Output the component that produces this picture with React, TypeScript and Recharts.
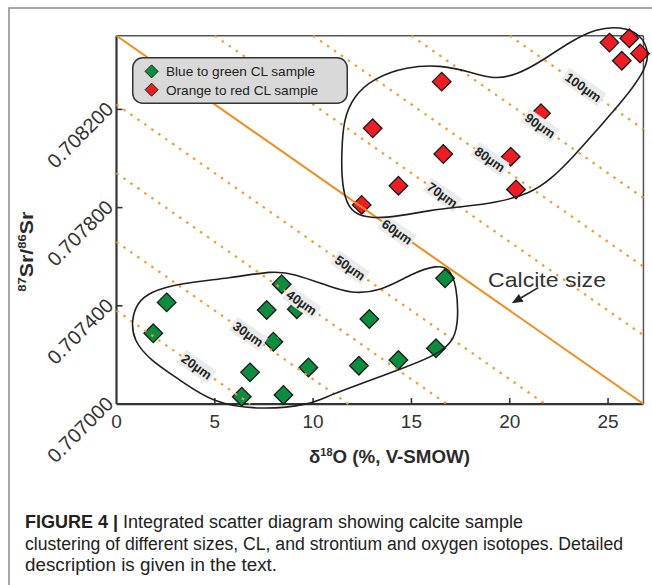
import React from 'react'
import { ScatterChart, Scatter, XAxis, YAxis, ReferenceLine, Legend } from 'recharts'

const FONT = '"Liberation Sans", Arial, sans-serif'

// plot frame in data units, and a slightly larger view so the hand-drawn
// envelopes may spill over the frame as they do in the figure
const X_FRAME: [number, number] = [0, 26.8]
const Y_FRAME: [number, number] = [0.707, 0.7085]
const X_VIEW: [number, number] = [0, 27.2]
const Y_VIEW: [number, number] = [0.70697, 0.70856]

const X_TICKS = [0, 5, 10, 15, 20, 25]
const Y_TICKS = [0.707, 0.7074, 0.7078, 0.7082]

const LEGEND_NAMES = ['Blue to green CL sample', 'Orange to red CL sample']

const GREEN_SAMPLES = [
  { x: 2.55, y: 0.707414 },
  { x: 1.87, y: 0.707288 },
  { x: 8.4, y: 0.707488 },
  { x: 7.64, y: 0.707383 },
  { x: 9.17, y: 0.707386 },
  { x: 7.98, y: 0.707254 },
  { x: 6.79, y: 0.707129 },
  { x: 9.76, y: 0.707149 },
  { x: 6.37, y: 0.70703 },
  { x: 8.49, y: 0.707037 },
  { x: 16.71, y: 0.707512 },
  { x: 12.86, y: 0.707346 },
  { x: 16.25, y: 0.707227 },
  { x: 14.34, y: 0.707179 },
  { x: 12.33, y: 0.707156 },
]

const RED_SAMPLES = [
  { x: 16.54, y: 0.708313 },
  { x: 13.03, y: 0.708123 },
  { x: 16.62, y: 0.708018 },
  { x: 20.05, y: 0.708007 },
  { x: 14.34, y: 0.707889 },
  { x: 20.32, y: 0.707874 },
  { x: 12.47, y: 0.707811 },
  { x: 21.59, y: 0.708184 },
  { x: 25.07, y: 0.708472 },
  { x: 26.08, y: 0.70849 },
  { x: 25.7, y: 0.708398 },
  { x: 26.63, y: 0.708428 },
]

// outlines drawn round each group
const GREEN_ENVELOPE = [
  { x: 0.77, y: 0.707342 }, { x: 1.03, y: 0.70741 }, { x: 1.7, y: 0.707457 },
  { x: 3.23, y: 0.707492 }, { x: 5.77, y: 0.707513 }, { x: 7.98, y: 0.707543 },
  { x: 8.99, y: 0.707532 }, { x: 10.86, y: 0.707478 }, { x: 11.88, y: 0.707451 },
  { x: 13.4, y: 0.707457 }, { x: 15.08, y: 0.707534 }, { x: 16.29, y: 0.707566 },
  { x: 16.96, y: 0.707553 }, { x: 17.3, y: 0.707478 }, { x: 17.39, y: 0.707356 },
  { x: 17.22, y: 0.707261 }, { x: 16.29, y: 0.7072 }, { x: 14.76, y: 0.707152 },
  { x: 12.54, y: 0.707086 }, { x: 10.86, y: 0.707037 }, { x: 9.84, y: 0.706996 },
  { x: 7.3, y: 0.706976 }, { x: 4.92, y: 0.707003 }, { x: 3.23, y: 0.707098 },
  { x: 1.7, y: 0.707179 }, { x: 0.85, y: 0.707261 },
]

const RED_ENVELOPE = [
  { x: 11.45, y: 0.708021 }, { x: 11.54, y: 0.708157 }, { x: 12.04, y: 0.708252 },
  { x: 13.06, y: 0.708327 }, { x: 14.76, y: 0.708374 }, { x: 16.45, y: 0.708381 },
  { x: 17.98, y: 0.708353 }, { x: 19.17, y: 0.708322 }, { x: 20.36, y: 0.70834 },
  { x: 21.71, y: 0.708401 }, { x: 23.07, y: 0.708476 }, { x: 24.43, y: 0.70853 },
  { x: 25.61, y: 0.708537 }, { x: 26.63, y: 0.70851 }, { x: 27.14, y: 0.708428 },
  { x: 26.8, y: 0.708347 }, { x: 25.78, y: 0.708238 }, { x: 24.43, y: 0.708116 },
  { x: 23.24, y: 0.708007 }, { x: 22.05, y: 0.707912 }, { x: 21.03, y: 0.707858 },
  { x: 19.34, y: 0.70782 }, { x: 17.64, y: 0.707804 }, { x: 15.95, y: 0.70779 },
  { x: 14.25, y: 0.707763 }, { x: 12.89, y: 0.707756 }, { x: 12.04, y: 0.707777 },
  { x: 11.62, y: 0.707831 }, { x: 11.45, y: 0.707926 },
]

// calcite size iso-lines: where each meets the bottom of the frame, and where its label sits
const SIZE_LABELS = ['20\u00b5m', '30\u00b5m', '40\u00b5m', '50\u00b5m', '60\u00b5m', '70\u00b5m', '80\u00b5m', '90\u00b5m', '100\u00b5m']
const SIZE_INTERCEPTS = [6.8, 11.8, 16.8, 21.8, 26.8, 31.8, 36.8, 41.8, 46.8]
const SIZE_LABEL_X = [4.08, 6.7, 9.42, 11.88, 14.27, 16.58, 18.99, 21.54, 23.74]
const CALCITE_LINE = '60\u00b5m'

const ARROW = [{ x: 21.45, y: 0.707474 }, { x: 20.1, y: 0.70741 }]

const CAPTION_LINES = [
  'Integrated scatter diagram showing calcite sample',
  'clustering of different sizes, CL, and strontium and oxygen isotopes. Detailed',
  'description is given in the text.',
]
const CAPTION_WIDTHS = [498, 598, 252]

const GREEN = '#0c8c3f'
const RED = '#ee1d23'
const ORANGE = '#f28c1c'
const ORANGE_DOT = '#f39a33'

// layout of the plot area in page pixels
const W = 652
const CHART_H = 480
const PLOT_LEFT = 116.5
const PLOT_TOP = 21
const PLOT_RIGHT = 651.3
const PLOT_BOTTOM = 411.4
const Y_AXIS_W = 60
const X_AXIS_H = 30
const TICK_PX = 6

const PX_PER_X = (PLOT_RIGHT - PLOT_LEFT) / (X_VIEW[1] - X_VIEW[0])
const PX_PER_Y = (PLOT_BOTTOM - PLOT_TOP) / (Y_VIEW[1] - Y_VIEW[0])

const slope = (Y_FRAME[1] - Y_FRAME[0]) / (X_FRAME[1] - X_FRAME[0])
const lineY = (x0: number, x: number) => Y_FRAME[0] + slope * (x0 - x)
const LABEL_ANGLE = (Math.atan((slope * PX_PER_Y) / PX_PER_X) * 180) / Math.PI

function segmentFor(x0: number) {
  const yLeft = lineY(x0, X_FRAME[0])
  const start =
    yLeft <= Y_FRAME[1] + 1e-12
      ? { x: X_FRAME[0], y: Math.min(yLeft, Y_FRAME[1]) }
      : { x: x0 - (Y_FRAME[1] - Y_FRAME[0]) / slope, y: Y_FRAME[1] }
  const end = x0 <= X_FRAME[1] ? { x: x0, y: Y_FRAME[0] } : { x: X_FRAME[1], y: lineY(x0, X_FRAME[1]) }
  return [start, end]
}

const sizeLabels = SIZE_LABELS.map((label, i) => ({
  x: SIZE_LABEL_X[i],
  y: lineY(SIZE_INTERCEPTS[i], SIZE_LABEL_X[i]),
  label,
}))

const NoShape = () => <g />

function Diamond(props: any) {
  const { cx, cy, fill } = props
  const r = 9.3
  return (
    <polygon
      points={`${cx},${cy - r} ${cx + r},${cy} ${cx},${cy + r} ${cx - r},${cy}`}
      fill={fill}
      stroke="#1a1a1a"
      strokeWidth={1.3}
    />
  )
}

function SizeLabel(props: any) {
  const { cx, cy, payload } = props
  const text: string = payload.label
  const w = text.length * 8 + 5
  return (
    <g transform={`translate(${cx},${cy}) rotate(${LABEL_ANGLE})`}>
      <rect x={-w / 2} y={-8} width={w} height={16} fill="#ebebeb" />
      <text x={0} y={4.6} textAnchor="middle" fontSize={13} fontWeight="bold" fill="#222" fontFamily={FONT}>
        {text}
      </text>
    </g>
  )
}

function XTick(props: any) {
  const { x, y, payload } = props
  return (
    <text x={x} y={y + 17} textAnchor="middle" fontSize={19} fill="#333" fontFamily={FONT}>
      {payload.value}
    </text>
  )
}

function YTick(props: any) {
  const { x, y, payload } = props
  const ax = x - 2
  const ay = y + 1
  return (
    <text
      x={ax}
      y={ay}
      transform={`rotate(-45 ${ax} ${ay})`}
      textAnchor="end"
      fontSize={20}
      fill="#333"
      fontFamily={FONT}
    >
      {Number(payload.value).toFixed(6)}
    </text>
  )
}

function Arrow(props: any) {
  const { x1, y1, x2, y2 } = props
  const a = Math.atan2(y2 - y1, x2 - x1)
  const len = 11
  const half = 4.5
  const bx = x2 - len * Math.cos(a)
  const by = y2 - len * Math.sin(a)
  const px = -Math.sin(a) * half
  const py = Math.cos(a) * half
  return (
    <g>
      <line x1={x1} y1={y1} x2={bx} y2={by} stroke="#222" strokeWidth={1.6} />
      <polygon points={`${x2},${y2} ${bx + px},${by + py} ${bx - px},${by - py}`} fill="#222" />
    </g>
  )
}

function LegendBox() {
  const colors = [GREEN, RED]
  return (
    <svg width={216} height={47}>
      <rect x={0.75} y={0.75} width={214.5} height={45.5} rx={10} fill="#d9d9d9" stroke="#333" strokeWidth={1.5} />
      {LEGEND_NAMES.map((name, i) => {
        const cy = 14.4 + i * 18.3
        const r = 6.5
        return (
          <g key={name}>
            <polygon
              points={`19.6,${cy - r} ${19.6 + r},${cy} 19.6,${cy + r} ${19.6 - r},${cy}`}
              fill={colors[i]}
              stroke="#1a1a1a"
              strokeWidth={1}
            />
            <text x={34} y={cy + 4.8} fontSize={13.6} fill="#222" fontFamily={FONT}>
              {name}
            </text>
          </g>
        )
      })}
    </svg>
  )
}

const tickDx = TICK_PX / PX_PER_X
const tickDy = TICK_PX / PX_PER_Y

export default function App() {
  return (
    <div style={{ position: 'absolute', left: 0, top: 0, width: W, height: 585, overflow: 'hidden', background: '#fff' }}>
      <ScatterChart
        width={W}
        height={CHART_H}
        margin={{
          top: PLOT_TOP,
          left: PLOT_LEFT - Y_AXIS_W,
          right: W - PLOT_RIGHT,
          bottom: CHART_H - PLOT_BOTTOM - X_AXIS_H,
        }}
      >
        <XAxis
          type="number"
          dataKey="x"
          domain={X_VIEW}
          ticks={X_TICKS}
          interval={0}
          axisLine={false}
          tickLine={false}
          tickSize={0}
          tickMargin={0}
          height={X_AXIS_H}
          tick={XTick}
        />
        <YAxis
          type="number"
          dataKey="y"
          domain={Y_VIEW}
          ticks={Y_TICKS}
          interval={0}
          axisLine={false}
          tickLine={false}
          tickSize={0}
          tickMargin={0}
          width={Y_AXIS_W}
          tick={YTick}
        />

        <Scatter name={LEGEND_NAMES[0]} data={GREEN_SAMPLES} fill={GREEN} shape={Diamond} isAnimationActive={false} />
        <Scatter name={LEGEND_NAMES[1]} data={RED_SAMPLES} fill={RED} shape={Diamond} isAnimationActive={false} />

        {SIZE_INTERCEPTS.map((x0, i) => {
          const solid = SIZE_LABELS[i] === CALCITE_LINE
          return (
            <Scatter
              key={SIZE_LABELS[i]}
              data={segmentFor(x0)}
              legendType="none"
              line={
                solid
                  ? { stroke: ORANGE, strokeWidth: 2 }
                  : { stroke: ORANGE_DOT, strokeWidth: 2.2, strokeDasharray: '2.5 6' }
              }
              lineType="joint"
              shape={NoShape}
              isAnimationActive={false}
            />
          )
        })}

        <Scatter data={sizeLabels} legendType="none" shape={SizeLabel} isAnimationActive={false} />

        <Scatter
          data={GREEN_ENVELOPE}
          legendType="none"
          line={{ stroke: '#1f1f1f', strokeWidth: 1.6 }}
          lineType="joint"
          lineJointType="basisClosed"
          shape={NoShape}
          isAnimationActive={false}
        />
        <Scatter
          data={RED_ENVELOPE}
          legendType="none"
          line={{ stroke: '#1f1f1f', strokeWidth: 1.6 }}
          lineType="joint"
          lineJointType="basisClosed"
          shape={NoShape}
          isAnimationActive={false}
        />

        {/* frame */}
        <ReferenceLine segment={[{ x: X_FRAME[0], y: Y_FRAME[1] }, { x: X_FRAME[1], y: Y_FRAME[1] }]} stroke="#555" strokeWidth={1.5} />
        <ReferenceLine segment={[{ x: X_FRAME[1], y: Y_FRAME[0] }, { x: X_FRAME[1], y: Y_FRAME[1] }]} stroke="#555" strokeWidth={1.5} />
        <ReferenceLine segment={[{ x: X_FRAME[0], y: Y_FRAME[0] }, { x: X_FRAME[0], y: Y_FRAME[1] }]} stroke="#333" strokeWidth={2.2} />
        <ReferenceLine segment={[{ x: X_FRAME[0], y: Y_FRAME[0] }, { x: X_FRAME[1], y: Y_FRAME[0] }]} stroke="#333" strokeWidth={2.2} />

        {/* inward tick marks */}
        {X_TICKS.filter((t) => t > X_FRAME[0]).map((t) => (
          <ReferenceLine key={`xt${t}`} segment={[{ x: t, y: Y_FRAME[0] }, { x: t, y: Y_FRAME[0] + tickDy }]} stroke="#333" strokeWidth={1.6} />
        ))}
        {Y_TICKS.filter((t) => t > Y_FRAME[0]).map((t) => (
          <ReferenceLine key={`yt${t}`} segment={[{ x: X_FRAME[0], y: t }, { x: X_FRAME[0] + tickDx, y: t }]} stroke="#333" strokeWidth={1.6} />
        ))}

        <ReferenceLine segment={ARROW} shape={Arrow} />

        <Legend
          layout="vertical"
          align="center"
          verticalAlign="middle"
          content={LegendBox}
          wrapperStyle={{ left: 132, top: 57, width: 216, height: 47 }}
        />
      </ScatterChart>

      <svg width={W} height={585} style={{ position: 'absolute', left: 0, top: 0, pointerEvents: 'none' }}>
        <path d="M9 585 V8 H652" stroke="#8c8c8c" strokeWidth={1.5} fill="none" />

        <text
          transform="translate(33, 251.7) rotate(-90)"
          textAnchor="middle"
          fontSize={18}
          fontWeight="bold"
          fill="#2b2b2b"
          fontFamily={FONT}
          textLength={80}
          lengthAdjust="spacingAndGlyphs"
        >
          <tspan fontSize={11} dy={-7}>87</tspan>
          <tspan dy={7}>Sr/</tspan>
          <tspan fontSize={11} dy={-7}>86</tspan>
          <tspan dy={7}>Sr</tspan>
        </text>

        <text
          x={389.5}
          y={463.3}
          textAnchor="middle"
          fontSize={18}
          fontWeight="bold"
          fill="#2b2b2b"
          fontFamily={FONT}
          textLength={161}
          lengthAdjust="spacingAndGlyphs"
        >
          {'\u03b4'}
          <tspan fontSize={10.5} dy={-7}>18</tspan>
          <tspan dy={7}>O (%, V-SMOW)</tspan>
        </text>

        <text x={488} y={286.7} fontSize={21} fill="#333" fontFamily={FONT} textLength={118} lengthAdjust="spacingAndGlyphs">
          Calcite size
        </text>

        {CAPTION_LINES.map((line, i) => (
          <text
            key={i}
            x={25}
            y={528.4 + i * 21.2}
            fontSize={18}
            fill="#222"
            fontFamily={FONT}
            textLength={CAPTION_WIDTHS[i]}
            lengthAdjust="spacingAndGlyphs"
          >
            {i === 0 ? <tspan fontWeight="bold">FIGURE 4 | </tspan> : null}
            {line}
          </text>
        ))}
      </svg>
    </div>
  )
}
